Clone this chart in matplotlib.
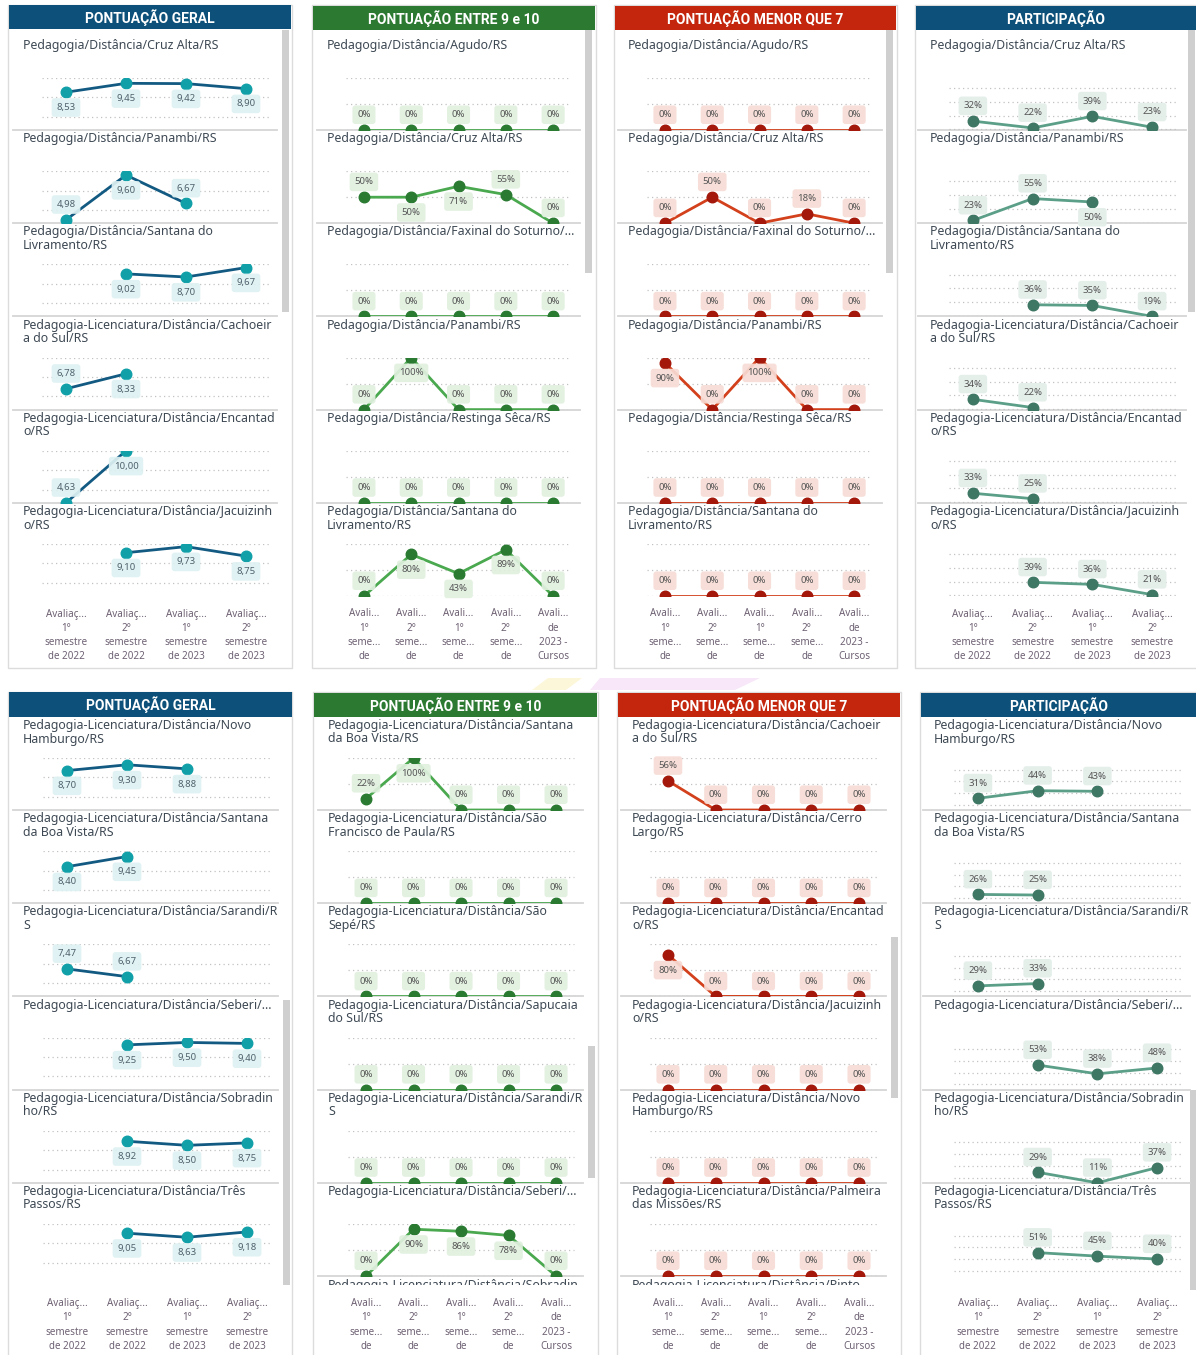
import matplotlib
matplotlib.use('Agg')
import matplotlib.pyplot as plt
from matplotlib.patches import Rectangle, Polygon
from matplotlib.lines import Line2D
from matplotlib.transforms import Bbox, TransformedBbox
import numpy as np

plt.rcParams['font.family'] = ['Noto Sans', 'DejaVu Sans']

# ------------------------------------------------------------------ data
HEADERS = ["PONTUAÇÃO GERAL", "PONTUAÇÃO ENTRE 9 e 10", "PONTUAÇÃO MENOR QUE 7", "PARTICIPAÇÃO"]

CAT4 = ["Avaliaç...\n1°\nsemestre\nde 2022", "Avaliaç...\n2°\nsemestre\nde 2022",
        "Avaliaç...\n1°\nsemestre\nde 2023", "Avaliaç...\n2°\nsemestre\nde 2023"]
CAT5 = ["Avali...\n1°\nseme...\nde", "Avali...\n2°\nseme...\nde", "Avali...\n1°\nseme...\nde",
        "Avali...\n2°\nseme...\nde", "Avali...\nde\n2023 -\nCursos"]

N = None

# --- top row
geral_top_titles = ["Pedagogia/Distância/Cruz Alta/RS",
                    "Pedagogia/Distância/Panambi/RS",
                    "Pedagogia/Distância/Santana do\nLivramento/RS",
                    "Pedagogia-Licenciatura/Distância/Cachoeir\na do Sul/RS",
                    "Pedagogia-Licenciatura/Distância/Encantad\no/RS",
                    "Pedagogia-Licenciatura/Distância/Jacuizinh\no/RS"]
geral_top_values = [[8.53, 9.45, 9.42, 8.90],
                    [4.98, 9.60, 6.67, N],
                    [N, 9.02, 8.70, 9.67],
                    [6.78, 8.33, N, N],
                    [4.63, 10.00, N, N],
                    [N, 9.10, 9.73, 8.75]]

entre_top_titles = ["Pedagogia/Distância/Agudo/RS",
                    "Pedagogia/Distância/Cruz Alta/RS",
                    "Pedagogia/Distância/Faxinal do Soturno/...",
                    "Pedagogia/Distância/Panambi/RS",
                    "Pedagogia/Distância/Restinga Sêca/RS",
                    "Pedagogia/Distância/Santana do\nLivramento/RS"]
entre_top_values = [[0, 0, 0, 0, 0],
                    [50, 50, 71, 55, 0],
                    [0, 0, 0, 0, 0],
                    [0, 100, 0, 0, 0],
                    [0, 0, 0, 0, 0],
                    [0, 80, 43, 89, 0]]

menor_top_titles = ["Pedagogia/Distância/Agudo/RS",
                    "Pedagogia/Distância/Cruz Alta/RS",
                    "Pedagogia/Distância/Faxinal do Soturno/...",
                    "Pedagogia/Distância/Panambi/RS",
                    "Pedagogia/Distância/Restinga Sêca/RS",
                    "Pedagogia/Distância/Santana do\nLivramento/RS"]
menor_top_values = [[0, 0, 0, 0, 0],
                    [0, 50, 0, 18, 0],
                    [0, 0, 0, 0, 0],
                    [90, 0, 100, 0, 0],
                    [0, 0, 0, 0, 0],
                    [0, 0, 0, 0, 0]]

part_top_titles = ["Pedagogia/Distância/Cruz Alta/RS",
                   "Pedagogia/Distância/Panambi/RS",
                   "Pedagogia/Distância/Santana do\nLivramento/RS",
                   "Pedagogia-Licenciatura/Distância/Cachoeir\na do Sul/RS",
                   "Pedagogia-Licenciatura/Distância/Encantad\no/RS",
                   "Pedagogia-Licenciatura/Distância/Jacuizinh\no/RS"]
part_top_values = [[32, 22, 39, 23],
                   [23, 55, 50, N],
                   [N, 36, 35, 19],
                   [34, 22, N, N],
                   [33, 25, N, N],
                   [N, 39, 36, 21]]

# --- bottom row
geral_bot_titles = ["Pedagogia-Licenciatura/Distância/Novo\nHamburgo/RS",
                    "Pedagogia-Licenciatura/Distância/Santana\nda Boa Vista/RS",
                    "Pedagogia-Licenciatura/Distância/Sarandi/R\nS",
                    "Pedagogia-Licenciatura/Distância/Seberi/...",
                    "Pedagogia-Licenciatura/Distância/Sobradin\nho/RS",
                    "Pedagogia-Licenciatura/Distância/Três\nPassos/RS"]
geral_bot_values = [[8.70, 9.30, 8.88, N],
                    [8.40, 9.45, N, N],
                    [7.47, 6.67, N, N],
                    [N, 9.25, 9.50, 9.40],
                    [N, 8.92, 8.50, 8.75],
                    [N, 9.05, 8.63, 9.18]]

entre_bot_titles = ["Pedagogia-Licenciatura/Distância/Santana\nda Boa Vista/RS",
                    "Pedagogia-Licenciatura/Distância/São\nFrancisco de Paula/RS",
                    "Pedagogia-Licenciatura/Distância/São\nSepé/RS",
                    "Pedagogia-Licenciatura/Distância/Sapucaia\ndo Sul/RS",
                    "Pedagogia-Licenciatura/Distância/Sarandi/R\nS",
                    "Pedagogia-Licenciatura/Distância/Seberi/...",
                    "Pedagogia-Licenciatura/Distância/Sobradin"]
entre_bot_values = [[22, 100, 0, 0, 0],
                    [0, 0, 0, 0, 0],
                    [0, 0, 0, 0, 0],
                    [0, 0, 0, 0, 0],
                    [0, 0, 0, 0, 0],
                    [0, 90, 86, 78, 0]]

menor_bot_titles = ["Pedagogia-Licenciatura/Distância/Cachoeir\na do Sul/RS",
                    "Pedagogia-Licenciatura/Distância/Cerro\nLargo/RS",
                    "Pedagogia-Licenciatura/Distância/Encantad\no/RS",
                    "Pedagogia-Licenciatura/Distância/Jacuizinh\no/RS",
                    "Pedagogia-Licenciatura/Distância/Novo\nHamburgo/RS",
                    "Pedagogia-Licenciatura/Distância/Palmeira\ndas Missões/RS",
                    "Pedagogia-Licenciatura/Distância/Pinto"]
menor_bot_values = [[56, 0, 0, 0, 0],
                    [0, 0, 0, 0, 0],
                    [80, 0, 0, 0, 0],
                    [0, 0, 0, 0, 0],
                    [0, 0, 0, 0, 0],
                    [0, 0, 0, 0, 0]]

part_bot_titles = ["Pedagogia-Licenciatura/Distância/Novo\nHamburgo/RS",
                   "Pedagogia-Licenciatura/Distância/Santana\nda Boa Vista/RS",
                   "Pedagogia-Licenciatura/Distância/Sarandi/R\nS",
                   "Pedagogia-Licenciatura/Distância/Seberi/...",
                   "Pedagogia-Licenciatura/Distância/Sobradin\nho/RS",
                   "Pedagogia-Licenciatura/Distância/Três\nPassos/RS"]
part_bot_values = [[31, 44, 43, N],
                   [26, 25, N, N],
                   [29, 33, N, N],
                   [N, 53, 38, 48],
                   [N, 29, 11, 37],
                   [N, 51, 45, 40]]

# ------------------------------------------------------------ label placement (1 = below the point)
geral_top_below = [[1, 1, 1, 1], [0, 1, 0, 0], [1, 1, 1, 1], [0, 1, 0, 0], [0, 1, 0, 0], [1, 1, 1, 1]]
entre_top_below = [[0] * 5, [0, 1, 1, 0, 0], [0] * 5, [0, 1, 0, 0, 0], [0] * 5, [0, 1, 1, 1, 0]]
menor_top_below = [[0] * 5, [0, 0, 0, 0, 0], [0] * 5, [1, 0, 1, 0, 0], [0] * 5, [0] * 5]
part_top_below = [[0] * 4, [0, 0, 1, 0], [0] * 4, [0] * 4, [0] * 4, [0] * 4]
geral_bot_below = [[1, 1, 1, 1], [1, 1, 1, 1], [0, 0, 0, 0], [1, 1, 1, 1], [1, 1, 1, 1], [1, 1, 1, 1]]
entre_bot_below = [[0, 1, 0, 0, 0], [0] * 5, [0] * 5, [0] * 5, [0] * 5, [0, 1, 1, 1, 0]]
menor_bot_below = [[0] * 5, [0] * 5, [1, 0, 0, 0, 0], [0] * 5, [0] * 5, [0] * 5]
part_bot_below = [[0] * 4] * 6

# ------------------------------------------------------------------ styling
W, H = 1196, 1355
fig = plt.figure(figsize=(W / 100, H / 100), dpi=100)
fig.patch.set_facecolor('white')

BLUE_H = '#0d5079'
GREEN_H = '#2c7a31'
RED_H = '#c3260d'

STY = {
    'geral': dict(line='#135a82', mark='#11a0a8', box='#def1f2', txt='#4f626c', hdr=BLUE_H,
                  ylim=(4.63, 10.0), grid=[6, 8, 10], fmt=lambda v: f"{v:.2f}".replace('.', ',')),
    'entre': dict(line='#4aa84f', mark='#2a7a32', box='#e1f0df', txt='#555555', hdr=GREEN_H,
                  ylim=(0, 100), grid=[0, 50, 100], fmt=lambda v: f"{v:.0f}%"),
    'menor': dict(line='#d3401c', mark='#a3180a', box='#f7dcd5', txt='#555555', hdr=RED_H,
                  ylim=(0, 100), grid=[0, 50, 100], fmt=lambda v: f"{v:.0f}%"),
    'part_top': dict(line='#5c9f88', mark='#3e7764', box='#e3eee9', txt='#555555', hdr=BLUE_H,
                     ylim=(19, 95), grid=[20, 40, 60, 80], fmt=lambda v: f"{v:.0f}%"),
    'part_bot': dict(line='#5c9f88', mark='#3e7764', box='#e3eee9', txt='#555555', hdr=BLUE_H,
                     ylim=(11, 100), grid=[20, 40, 60, 80], fmt=lambda v: f"{v:.0f}%"),
}


def frect(x0, y0, x1, y1):
    return [x0 / W, 1 - y1 / H, (x1 - x0) / W, (y1 - y0) / H]


def fx(x):
    return x / W


def fy(y):
    return 1 - y / H


def add_rect(x0, y0, x1, y1, **kw):
    r = Rectangle((fx(x0), fy(y1)), (x1 - x0) / W, (y1 - y0) / H, transform=fig.transFigure, **kw)
    fig.patches.append(r)
    return r


# faint decorative shapes between the rows
fig.patches.append(Polygon([(fx(532), fy(690)), (fx(548), fy(678)), (fx(582), fy(678)), (fx(566), fy(690))],
                           closed=True, transform=fig.transFigure, fc='#fdf7d9', ec='none', zorder=-2))
fig.patches.append(Polygon([(fx(590), fy(690)), (fx(600), fy(678)), (fx(760), fy(678)), (fx(735), fy(690))],
                           closed=True, transform=fig.transFigure, fc='#f7e7f8', ec='none', zorder=-2))

TOP_CELLS = [37 + 93.2 * i for i in range(7)]
BOT_CELLS = [717 + 93.2 * i for i in range(7)]

panels = [
    # top row
    dict(kind='geral', box=(8, 5, 292, 668), hdr=(9, 5, 291, 29), tx=23, px=(36, 276), cells=TOP_CELLS,
         titles=geral_top_titles, values=geral_top_values, below=geral_top_below, cats=CAT4,
         sep=(13, 277), scroll=(282, 30, 289, 312), pad=9, partial=False),
    dict(kind='entre', box=(312, 5, 596, 668), hdr=(313, 6, 595, 30), tx=327, px=(340.3, 576.8), cells=TOP_CELLS,
         titles=entre_top_titles, values=entre_top_values, below=entre_top_below, cats=CAT5,
         sep=(317, 580), scroll=(585, 30, 592, 273), pad=9, partial=False),
    dict(kind='menor', box=(614, 5, 897, 668), hdr=(615, 6, 896, 30), tx=628, px=(641.3, 877.8), cells=TOP_CELLS,
         titles=menor_top_titles, values=menor_top_values, below=menor_top_below, cats=CAT5,
         sep=(618, 882), scroll=(886, 30, 893, 273), pad=9, partial=False),
    dict(kind='part_top', box=(915, 5, 1200, 668), hdr=(916, 6, 1200, 30), tx=930, px=(943, 1182), cells=TOP_CELLS,
         titles=part_top_titles, values=part_top_values, below=part_top_below, cats=CAT4,
         sep=(918, 1186), scroll=(1188, 30, 1195, 312), pad=9, partial=False),
    # bottom row
    dict(kind='geral', box=(8, 692, 292, 1400), hdr=(9, 692, 292, 717), tx=23, px=(37, 277), cells=BOT_CELLS,
         titles=geral_bot_titles, values=geral_bot_values, below=geral_bot_below, cats=CAT4,
         sep=(13, 278), scroll=(283, 1000, 290, 1285), pad=16, partial=False),
    dict(kind='entre', box=(313, 692, 598, 1400), hdr=(314, 693, 597, 717), tx=328, px=(342.3, 579.8), cells=BOT_CELLS,
         titles=entre_bot_titles, values=entre_bot_values, below=entre_bot_below, cats=CAT5,
         sep=(318, 583), scroll=(588, 1046, 595, 1178), pad=16, partial=True),
    dict(kind='menor', box=(617, 692, 901, 1400), hdr=(618, 693, 900, 717), tx=632, px=(644.1, 882.9), cells=BOT_CELLS,
         titles=menor_bot_titles, values=menor_bot_values, below=menor_bot_below, cats=CAT5,
         sep=(621, 886), scroll=(891, 937, 898, 1098), pad=16, partial=True),
    dict(kind='part_bot', box=(920, 692, 1200, 1400), hdr=(921, 693, 1200, 717), tx=934, px=(948, 1187), cells=BOT_CELLS,
         titles=part_bot_titles, values=part_bot_values, below=part_bot_below, cats=CAT4,
         sep=(923, 1190), scroll=(1190, 1090, 1197, 1290), pad=16, partial=False),
]

TITLE_COLOR = '#3e4954'
TICK_COLOR = '#6d6072'
HDR_FONT = ['Roboto', 'Noto Sans', 'DejaVu Sans']

for p in panels:
    s = STY[p['kind']]
    bx0, by0, bx1, by1 = p['box']
    add_rect(bx0, by0, bx1, by1, fc='white', ec='#dcdcdc', lw=1.0, zorder=-1)
    hx0, hy0, hx1, hy1 = p['hdr']
    add_rect(hx0, hy0, hx1, hy1, fc=s['hdr'], ec='none', zorder=1)
    hname = {'geral': 0, 'entre': 1, 'menor': 2, 'part_top': 3, 'part_bot': 3}[p['kind']]
    fig.text(fx((hx0 + min(hx1, 1196)) / 2), fy((hy0 + hy1) / 2 + 0.5), HEADERS[hname], color='white',
             fontsize=10, fontweight='bold', family=HDR_FONT, ha='center', va='center', zorder=2)
    sx0, sy0, sx1, sy1 = p['scroll']
    add_rect(sx0, sy0, sx1, sy1, fc='#cfcfcf', ec='none', zorder=1)

    n = len(p['cats'])
    ncell = len(p['values'])
    for ci in range(ncell):
        top = p['cells'][ci]
        ax = fig.add_axes(frect(p['px'][0], top + 41, p['px'][1], top + 93))
        ax.set_zorder(3)
        ax.patch.set_alpha(0)
        for sp in ax.spines.values():
            sp.set_visible(False)
        ax.set_xlim(-0.5, n - 0.5)
        ax.set_ylim(*s['ylim'])
        ax.set_yticks([])
        for g in s['grid']:
            ax.axhline(g, xmin=0.025, xmax=0.975, color='#c2c2c2', lw=0.9, ls=(0, (1, 2.6)), zorder=1)
        vals = np.array([np.nan if v is None else v for v in p['values'][ci]], dtype=float)
        xs = np.arange(n)
        ax.plot(xs, vals, color=s['line'], lw=2.0, zorder=3, solid_capstyle='round')
        ax.plot(xs, vals, 'o', ms=7.6, color=s['mark'], zorder=4)
        for i, v in enumerate(p['values'][ci]):
            if v is None:
                continue
            off = -11 if p['below'][ci][i] else 11
            ax.annotate(s['fmt'](v), (i, v), xytext=(0, off), textcoords='offset points',
                        ha='center', va='center', fontsize=6.9, color=s['txt'], annotation_clip=False,
                        bbox=dict(boxstyle='round,pad=0.5,rounding_size=0.3', fc=s['box'], ec='none', alpha=0.92),
                        zorder=5)
        if ci == ncell - 1:
            ax.set_xticks(xs)
            ax.set_xticklabels(p['cats'], fontsize=7.1, color=TICK_COLOR, linespacing=1.4)
            ax.tick_params(axis='x', length=0, pad=p['pad'])
        else:
            ax.set_xticks([])
        # cell title
        fig.text(fx(p['tx']), fy(top + 2), p['titles'][ci], fontsize=8.9, color=TITLE_COLOR,
                 ha='left', va='top', linespacing=1.05)
        # separator under the cell
        if ci < ncell - 1 or p['partial']:
            fig.add_artist(Line2D([fx(p['sep'][0]), fx(p['sep'][1])], [fy(top + 93), fy(top + 93)],
                                  transform=fig.transFigure, color='#d5d5d5', lw=1.3, zorder=2))
    if p['partial']:
        top = p['cells'][ncell]
        t = fig.text(fx(p['tx']), fy(top + 3), p['titles'][ncell], fontsize=8.9, color=TITLE_COLOR,
                     ha='left', va='top')
        clip = TransformedBbox(Bbox.from_extents(fx(p['sep'][0]), fy(top + 9), fx(p['sep'][1]), fy(top)),
                               fig.transFigure)
        t.set_clip_box(clip)
        t.set_clip_on(True)

fig.savefig('out.png', dpi=100, facecolor='white')
